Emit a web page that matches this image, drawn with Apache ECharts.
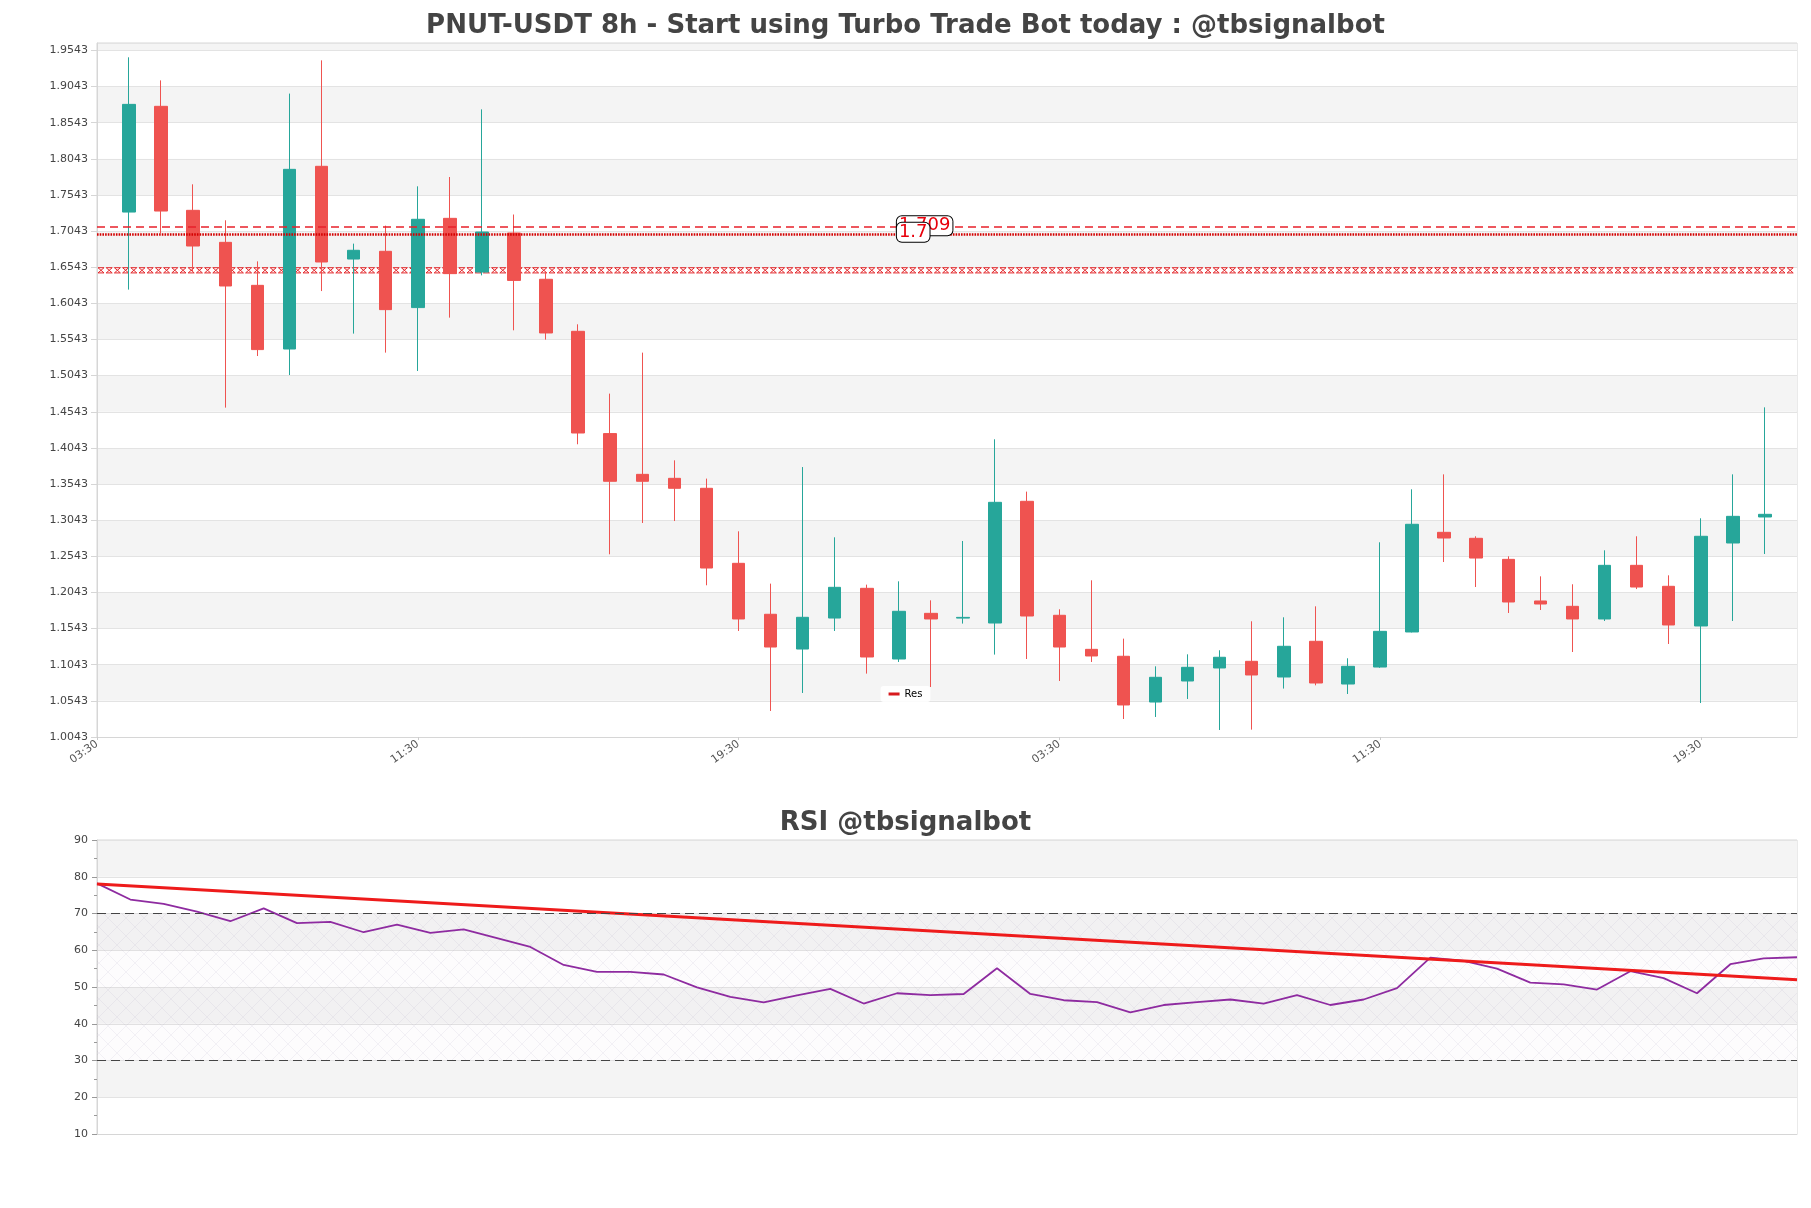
<!DOCTYPE html>
<html>
<head>
<meta charset="utf-8">
<title>PNUT-USDT 8h</title>
<script src="https://cdn.jsdelivr.net/npm/echarts@6/dist/echarts.min.js"></script>
<style>
  html, body { margin: 0; padding: 0; background: #fff; }
  #chart { width: 1811px; height: 1208px; }
</style>
</head>
<body>
<div id="chart"></div>
<script>
// price panel categories (8h steps, one empty slot at each end)
const timeLabels = [
  '03:30', '11:30', '19:30', '03:30', '11:30', '19:30', '03:30', '11:30', '19:30',
  '03:30', '11:30', '19:30', '03:30', '11:30', '19:30', '03:30', '11:30', '19:30',
  '03:30', '11:30', '19:30', '03:30', '11:30', '19:30', '03:30', '11:30', '19:30',
  '03:30', '11:30', '19:30', '03:30', '11:30', '19:30', '03:30', '11:30', '19:30',
  '03:30', '11:30', '19:30', '03:30', '11:30', '19:30', '03:30', '11:30', '19:30',
  '03:30', '11:30', '19:30', '03:30', '11:30', '19:30', '03:30', '11:30', '19:30'
]

const opens = [1.7306, 1.8769, 1.7330, 1.6887, 1.6292, 1.5411, 1.7939, 1.6656, 1.6763, 1.5984,
  1.7219, 1.6476, 1.7016, 1.6376, 1.5656, 1.4241, 1.3677, 1.3622, 1.3484, 1.2446,
  1.1741, 1.1260, 1.1689, 1.2100, 1.1122, 1.1754, 1.1688, 1.1620, 1.3304, 1.1727,
  1.1256, 1.1160, 1.0527, 1.0818, 1.0998, 1.1090, 1.0873, 1.1367, 1.0776, 1.1011,
  1.1496, 1.2875, 1.2792, 1.2501, 1.1925, 1.1851, 1.1676, 1.2418, 1.2128, 1.1579,
  1.2727, 1.3087]
const closes = [1.8796, 1.7320, 1.6836, 1.6283, 1.5403, 1.7897, 1.6615, 1.6777, 1.5956, 1.7206,
  1.6454, 1.7030, 1.6360, 1.5633, 1.4249, 1.3581, 1.3581, 1.3484, 1.2381, 1.1676,
  1.1288, 1.1699, 1.2114, 1.1150, 1.1782, 1.1676, 1.1698, 1.3290, 1.1717, 1.1288,
  1.1164, 1.0486, 1.0869, 1.1007, 1.1146, 1.0901, 1.1298, 1.0790, 1.1021, 1.1505,
  1.2986, 1.2796, 1.2519, 1.1911, 1.1883, 1.1676, 1.2418, 1.2118, 1.1593, 1.2820,
  1.3096, 1.3124]
const lows = [1.6233, 1.7012, 1.6476, 1.4600, 1.5314, 1.5051, 1.6213, 1.5624, 1.5361, 1.5107,
  1.5845, 1.6430, 1.5670, 1.5541, 1.4093, 1.2571, 1.3004, 1.3031, 1.2142, 1.1510,
  1.0403, 1.0652, 1.1510, 1.0920, 1.1081, 1.0735, 1.1612, 1.1183, 1.1122, 1.0818,
  1.1081, 1.0292, 1.0320, 1.0569, 1.0140, 1.0145, 1.0713, 1.0758, 1.0638, 1.1000,
  1.1490, 1.2464, 1.2118, 1.1759, 1.1800, 1.1219, 1.1648, 1.2090, 1.1330, 1.0513,
  1.1648, 1.2575]
const highs = [1.9447, 1.9128, 1.7690, 1.7192, 1.6624, 1.8945, 1.9405, 1.6869, 1.7118, 1.7662,
  1.7791, 1.8727, 1.7272, 1.6488, 1.5753, 1.4794, 1.5361, 1.3871, 1.3618, 1.2889,
  1.2165, 1.3778, 1.2806, 1.2151, 1.2197, 1.1934, 1.2755, 1.4162, 1.3438, 1.1810,
  1.2211, 1.1404, 1.1021, 1.1187, 1.1243, 1.1644, 1.1699, 1.1851, 1.1132, 1.2737,
  1.3470, 1.3677, 1.2820, 1.2543, 1.2266, 1.2156, 1.2626, 1.2820, 1.2280, 1.3069,
  1.3677, 1.4604]

const priceMin = 1.0043
const priceMax = 1.9645
const priceStep = 0.05

const resLevels = [1.709, 1.7]   // dashed, dotted
const supportLevel = 1.65
const labelSlot = 25

const rsiValues = [78.2, 73.8, 72.6, 70.5, 67.9, 71.4, 67.4, 67.7, 64.9, 67.0,
  64.7, 65.7, 63.3, 60.9, 56.0, 54.1, 54.1, 53.4, 49.9, 47.3,
  45.8, 47.7, 49.5, 45.5, 48.3, 47.8, 48.1, 55.1, 48.1, 46.4,
  45.9, 43.1, 45.1, 45.9, 46.6, 45.5, 47.8, 45.1, 46.6, 49.7,
  58.0, 57.1, 55.0, 51.2, 50.7, 49.3, 54.3, 52.4, 48.3, 56.2,
  57.8, 58.1]
const rsiTrend = [78, 52]      // first and last point of the trend line
const rsiBands = [30, 70]

const FONT = 'DejaVu Sans'
const UP = '#26a69a'
const DOWN = '#ef5350'

// candle rows: [open, close, low, high], empty slot at both ends
const candleData = ['-']
for (let i = 0; i < opens.length; i++) {
  candleData.push([opens[i], closes[i], lows[i], highs[i]])
}
candleData.push('-')

const rsiLabels = timeLabels.slice(1, 1 + rsiValues.length)

// small cross hatch tile for the 30-70 zone
function hatchTile () {
  const c = document.createElement('canvas')
  c.width = 18
  c.height = 18
  const g = c.getContext('2d')
  g.fillStyle = 'rgba(150, 110, 185, 0.025)'
  g.fillRect(0, 0, 18, 18)
  g.strokeStyle = 'rgba(140, 125, 165, 0.16)'
  g.lineWidth = 0.6
  g.beginPath()
  g.moveTo(0, 0); g.lineTo(18, 18)
  g.moveTo(18, 0); g.lineTo(0, 18)
  g.stroke()
  return c
}

// hourglass band along the support level
function renderSupport (params, api) {
  const cs = params.coordSys
  const y = api.coord([0, api.value(1)])[1]
  const half = 2.6
  const step = 8.2
  const w = 6
  const style = { stroke: '#e3262a', lineWidth: 1, fill: null }
  const kids = []
  for (let x = cs.x + 1; x + w <= cs.x + cs.width; x += step) {
    kids.push({ type: 'line', shape: { x1: x, y1: y - half, x2: x + w, y2: y - half }, style })
    kids.push({ type: 'line', shape: { x1: x, y1: y + half, x2: x + w, y2: y + half }, style })
    kids.push({ type: 'line', shape: { x1: x, y1: y - half, x2: x + w, y2: y + half }, style })
    kids.push({ type: 'line', shape: { x1: x, y1: y + half, x2: x + w, y2: y - half }, style })
  }
  return { type: 'group', children: kids }
}

const axisGray = '#d6d6d6'
const bandColors = ['#ffffff', '#f4f4f4']

const option = {
  animation: false,
  backgroundColor: '#fff',
  textStyle: { fontFamily: FONT },
  title: [
    {
      text: 'PNUT-USDT 8h - Start using Turbo Trade Bot today : @tbsignalbot',
      left: 'center',
      top: 13,
      padding: 0,
      textStyle: { fontFamily: FONT, fontSize: 26, fontWeight: 'bold', color: '#444' }
    },
    {
      text: 'RSI @tbsignalbot',
      left: 'center',
      top: 810,
      padding: 0,
      textStyle: { fontFamily: FONT, fontSize: 26, fontWeight: 'bold', color: '#444' }
    }
  ],
  legend: {
    data: ['Res'],
    left: 'center',
    top: 686,
    icon: 'rect',
    itemWidth: 11,
    itemHeight: 3,
    padding: [3, 8],
    backgroundColor: 'rgba(255,255,255,0.85)',
    borderRadius: 3,
    textStyle: { fontFamily: FONT, fontSize: 10, color: '#000' }
  },
  grid: [
    { left: 97, right: 14, top: 43, bottom: 471, show: true, borderColor: axisGray, borderWidth: 1, containLabel: false, outerBoundsMode: 'none' },
    { left: 97, right: 14, top: 840, bottom: 74, show: true, borderColor: axisGray, borderWidth: 1, containLabel: false, outerBoundsMode: 'none' }
  ],
  xAxis: [
    {
      type: 'category',
      gridIndex: 0,
      data: timeLabels,
      boundaryGap: false,
      axisLine: { lineStyle: { color: axisGray } },
      axisTick: { show: true, interval: 9, length: 3, lineStyle: { color: '#ccc' } },
      axisLabel: { interval: 9, rotate: 35, fontSize: 11, color: '#555', fontFamily: FONT, margin: 6 },
      splitLine: { show: false }
    },
    {
      type: 'category',
      gridIndex: 1,
      data: rsiLabels,
      boundaryGap: false,
      axisLine: { lineStyle: { color: axisGray } },
      axisTick: { show: false },
      axisLabel: { show: false },
      splitLine: { show: false }
    }
  ],
  yAxis: [
    {
      type: 'value',
      gridIndex: 0,
      min: priceMin,
      max: priceMax,
      interval: priceStep,
      axisLine: { show: true, lineStyle: { color: axisGray } },
      axisTick: { show: true, length: 6, lineStyle: { color: axisGray } },
      axisLabel: {
        fontSize: 11, color: '#444', fontFamily: FONT, margin: 9,
        showMaxLabel: false,
        formatter: v => v.toFixed(4)
      },
      splitLine: { lineStyle: { color: '#e3e3e3' } },
      splitArea: { show: true, areaStyle: { color: bandColors } }
    },
    {
      type: 'value',
      gridIndex: 1,
      min: 10,
      max: 90,
      interval: 10,
      axisLine: { show: true, lineStyle: { color: axisGray } },
      axisTick: { show: true, length: 5, lineStyle: { color: '#999' } },
      minorTick: { show: true, splitNumber: 2, length: 3, lineStyle: { color: '#999' } },
      axisLabel: { fontSize: 11, color: '#444', fontFamily: FONT, margin: 9 },
      splitLine: { lineStyle: { color: '#e3e3e3' } },
      splitArea: { show: true, areaStyle: { color: bandColors } }
    }
  ],
  series: [
    {
      type: 'custom',
      name: 'support',
      xAxisIndex: 0,
      yAxisIndex: 0,
      silent: true,
      z: 2,
      renderItem: renderSupport,
      data: [[0, supportLevel]]
    },
    {
      type: 'candlestick',
      name: 'PNUT',
      xAxisIndex: 0,
      yAxisIndex: 0,
      barWidth: 13,
      z: 3,
      itemStyle: {
        color: UP,
        color0: DOWN,
        borderColor: UP,
        borderColor0: DOWN,
        borderWidth: 1
      },
      data: candleData
    },
    {
      type: 'line',
      name: 'Res',
      xAxisIndex: 0,
      yAxisIndex: 0,
      data: [],
      z: 4,
      itemStyle: { color: '#d7191c' },
      lineStyle: { color: '#d7191c' },
      markLine: {
        silent: true,
        symbol: 'none',
        label: { show: false },
        data: [
          { yAxis: resLevels[0], lineStyle: { type: [8, 5], width: 1.5, color: '#e8202a' } },
          { yAxis: resLevels[1], lineStyle: { type: [1.6, 1.1], width: 2.5, color: '#d40000' } }
        ]
      },
      markPoint: {
        silent: true,
        symbol: 'rect',
        symbolSize: 0,
        label: {
          show: true,
          position: 'right',
          distance: -2,
          offset: [0, -2],
          formatter: '{c}',
          fontFamily: FONT,
          fontSize: 18,
          color: '#e8000b',
          backgroundColor: '#fff',
          borderColor: '#000',
          borderWidth: 1,
          borderRadius: 5,
          padding: [1, 2, 0, 2]
        },
        data: [
          { coord: [labelSlot, resLevels[0]], value: String(resLevels[0]) },
          { coord: [labelSlot, resLevels[1]], value: String(resLevels[1]) }
        ]
      }
    },
    {
      type: 'line',
      name: 'RSI',
      xAxisIndex: 1,
      yAxisIndex: 1,
      data: rsiValues,
      symbol: 'none',
      z: 3,
      lineStyle: { color: '#8e2ba0', width: 1.8 },
      itemStyle: { color: '#8e2ba0' },
      markArea: {
        silent: true,
        itemStyle: { color: { image: hatchTile(), repeat: 'repeat' } },
        data: [[{ yAxis: rsiBands[0] }, { yAxis: rsiBands[1] }]]
      },
      markLine: {
        silent: true,
        symbol: 'none',
        label: { show: false },
        lineStyle: { type: [9, 5], width: 1.2, color: '#444' },
        data: [{ yAxis: rsiBands[1] }, { yAxis: rsiBands[0] }]
      }
    },
    {
      type: 'line',
      name: 'trend',
      xAxisIndex: 1,
      yAxisIndex: 1,
      symbol: 'none',
      z: 4,
      lineStyle: { color: '#ee1b1b', width: 3 },
      data: [[0, rsiTrend[0]], [rsiValues.length - 1, rsiTrend[1]]]
    }
  ]
}

const myChart = echarts.init(document.getElementById('chart'))
myChart.setOption(option)
</script>
</body>
</html>
